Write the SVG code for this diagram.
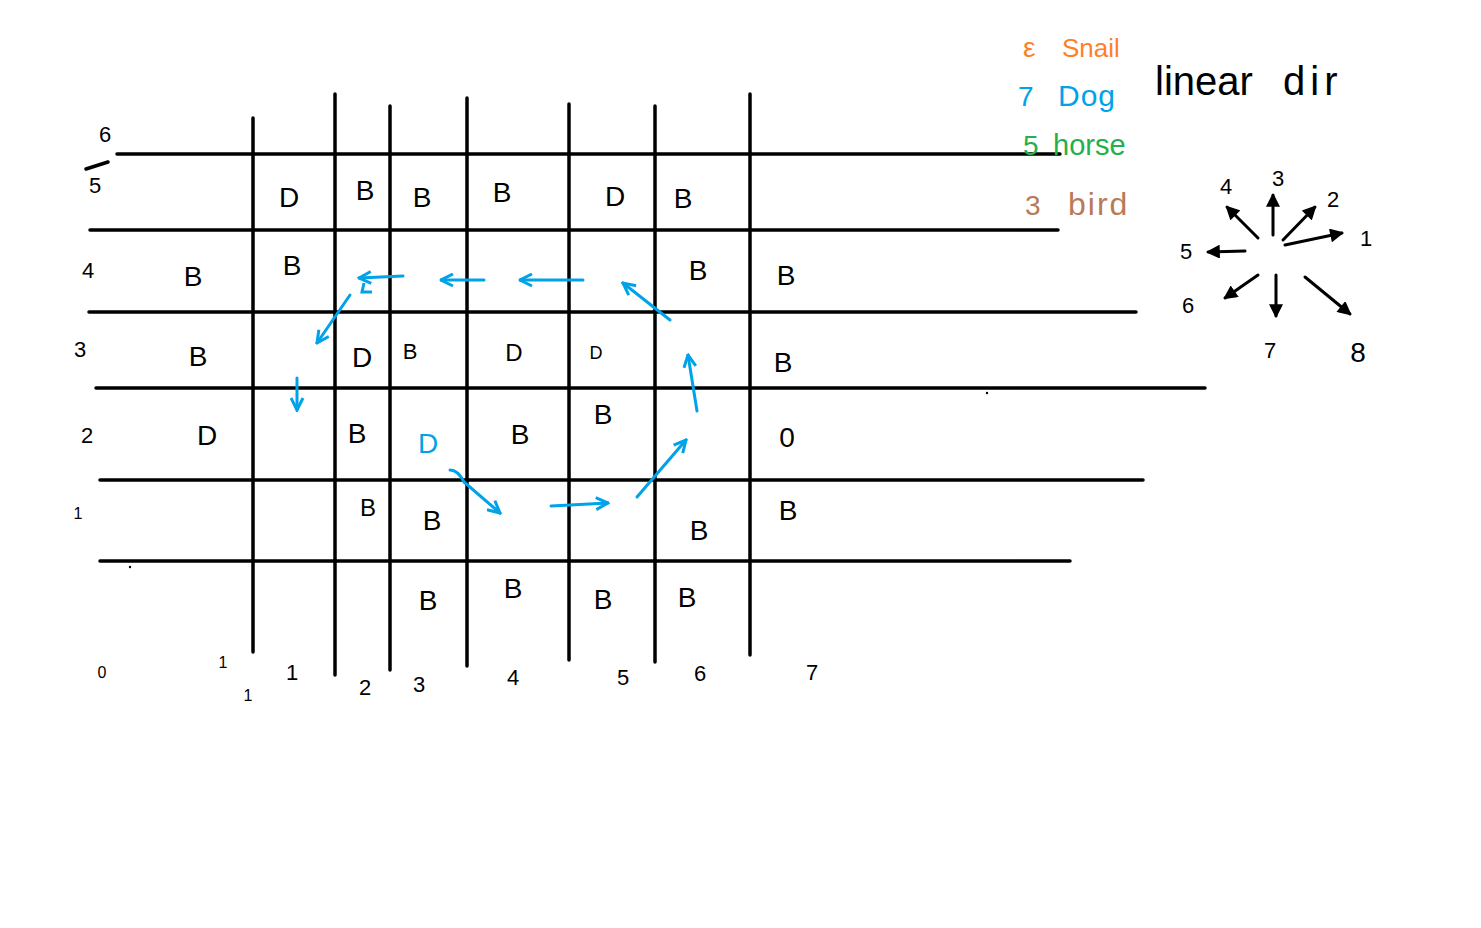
<svg xmlns="http://www.w3.org/2000/svg" width="1481" height="928" viewBox="0 0 1481 928">
<style>
.g{stroke:#000;stroke-width:3.5;stroke-linecap:round}
.t{font-family:"Liberation Sans",Arial,sans-serif;font-size:28px;fill:#000;text-anchor:middle}
.s{font-size:22px}
.ab{stroke:#00a2e8;stroke-width:3;fill:none;stroke-linecap:round;marker-end:url(#mb)}
.ak{stroke:#000;stroke-width:3;fill:none;stroke-linecap:round;marker-end:url(#mk)}
.lg{font-family:"Liberation Sans",Arial,sans-serif;font-size:28px}
</style>
<defs>
<marker id="mb" viewBox="0 0 10 10" refX="9" refY="5" markerWidth="5" markerHeight="5" orient="auto" markerUnits="strokeWidth"><path d="M1,1 L9,5 L1,9" fill="none" stroke="#00a2e8" stroke-width="2"/></marker>
<marker id="mk" viewBox="0 0 10 10" refX="9" refY="5" markerWidth="4.5" markerHeight="4.5" orient="auto" markerUnits="strokeWidth"><path d="M1,1 L9,5 L1,9 Z" fill="#000" stroke="#000" stroke-width="1.5"/></marker>
</defs>
<rect width="1481" height="928" fill="#fff"/>
<g id="grid">
<line class="g" x1="117" y1="154" x2="1060" y2="154"/>
<line class="g" x1="90" y1="230" x2="1058" y2="230"/>
<line class="g" x1="89" y1="312" x2="1136" y2="312"/>
<line class="g" x1="96" y1="388" x2="1205" y2="388"/>
<line class="g" x1="100" y1="480" x2="1143" y2="480"/>
<line class="g" x1="100" y1="561" x2="1070" y2="561"/>
<line class="g" x1="253" y1="118" x2="253" y2="652"/>
<line class="g" x1="335" y1="94" x2="335" y2="675"/>
<line class="g" x1="390" y1="106" x2="390" y2="670"/>
<line class="g" x1="467" y1="98" x2="467" y2="666"/>
<line class="g" x1="569" y1="104" x2="569" y2="660"/>
<line class="g" x1="655" y1="106" x2="655" y2="662"/>
<line class="g" x1="750" y1="94" x2="750" y2="655"/>
</g>
<g id="row-labels">
<text class="t s" x="105" y="142">6</text>
<path class="g" d="M86,169 L108,162" stroke-width="3"/>
<text class="t s" x="95" y="193">5</text>
<text class="t s" x="88" y="278">4</text>
<text class="t s" x="80" y="357">3</text>
<text class="t s" x="87" y="443">2</text>
<text class="t" x="78" y="519" style="font-size:16px">1</text>
</g>
<g id="col-labels">
<text class="t" x="102" y="678" style="font-size:16px">0</text>
<text class="t" x="223" y="668" style="font-size:16px">1</text>
<text class="t" x="248" y="701" style="font-size:16px">1</text>
<text class="t s" x="292" y="680">1</text>
<text class="t s" x="365" y="695">2</text>
<text class="t s" x="419" y="692">3</text>
<text class="t s" x="513" y="685">4</text>
<text class="t s" x="623" y="685">5</text>
<text class="t s" x="700" y="681">6</text>
<text class="t s" x="812" y="680">7</text>
</g>
<g id="cells">
<text class="t" x="289" y="207">D</text>
<text class="t" x="365" y="200">B</text>
<text class="t" x="422" y="207">B</text>
<text class="t" x="502" y="202">B</text>
<text class="t" x="615" y="206">D</text>
<text class="t" x="683" y="208">B</text>
<text class="t" x="193" y="286">B</text>
<text class="t" x="292" y="275">B</text>
<text class="t" x="698" y="280">B</text>
<text class="t" x="786" y="285">B</text>
<text class="t" x="198" y="366">B</text>
<text class="t" x="362" y="367">D</text>
<text class="t" x="410" y="359" style="font-size:22px">B</text>
<text class="t" x="514" y="361" style="font-size:24px">D</text>
<text class="t" x="596" y="359" style="font-size:18px">D</text>
<text class="t" x="783" y="372">B</text>
<text class="t" x="207" y="445">D</text>
<text class="t" x="357" y="443">B</text>
<text class="t" x="428" y="453" style="fill:#00a2e8">D</text>
<text class="t" x="520" y="444">B</text>
<text class="t" x="603" y="424">B</text>
<text class="t" x="787" y="447">0</text>
<text class="t" x="368" y="516" style="font-size:24px">B</text>
<text class="t" x="432" y="530">B</text>
<text class="t" x="699" y="540">B</text>
<text class="t" x="788" y="520">B</text>
<text class="t" x="428" y="610">B</text>
<text class="t" x="513" y="598">B</text>
<text class="t" x="603" y="609">B</text>
<text class="t" x="687" y="607">B</text>
</g>
<g id="dog-path">
<path class="ab" d="M450,470 Q458,470 464,482 L500,513"/>
<path class="ab" d="M551,506 L608,503"/>
<path class="ab" d="M637,497 L686,440"/>
<path class="ab" d="M697,411 L688,355"/>
<path class="ab" d="M670,320 L623,283"/>
<path class="ab" d="M583,280 L520,280"/>
<path class="ab" d="M484,280 L441,280"/>
<path class="ab" d="M403,276 L359,278"/>
<path d="M364,283 L362,292 L372,292" stroke="#00a2e8" stroke-width="3" fill="none"/>
<path class="ab" d="M350,295 L317,343"/>
<path class="ab" d="M297,378 L297,410"/>
</g>
<g id="legend">
<text class="lg" x="1023" y="57" fill="#ff7f27">ε</text>
<text class="lg" x="1062" y="57" fill="#ff7f27" style="font-size:26px">Snail</text>
<text class="lg" x="1018" y="106" fill="#00a2e8">7</text>
<text class="lg" x="1058" y="106" fill="#00a2e8" style="font-size:30px;letter-spacing:1px">Dog</text>
<text class="lg" x="1023" y="155" fill="#22b14c">5</text>
<text class="lg" x="1053" y="155" fill="#22b14c" style="font-size:29px">horse</text>
<text class="lg" x="1025" y="215" fill="#b97a57">3</text>
<text class="lg" x="1068" y="215" fill="#b97a57" style="font-size:32px;letter-spacing:2px">bird</text>
<text class="lg" x="1155" y="95" style="font-size:40px" fill="#000">linear</text>
<text class="lg" x="1283" y="95" style="font-size:40px;letter-spacing:5px" fill="#000">dir</text>
</g>
<g id="compass">
<path class="ak" d="M1285,245 L1342,233"/>
<path class="ak" d="M1283,240 L1315,207"/>
<path class="ak" d="M1273,235 L1273,195"/>
<path class="ak" d="M1258,238 L1227,207"/>
<path class="ak" d="M1245,251 L1208,252"/>
<path class="ak" d="M1258,275 L1225,298"/>
<path class="ak" d="M1276,275 L1276,316"/>
<path class="ak" d="M1305,277 L1350,314"/>
<text class="t s" x="1366" y="246">1</text>
<text class="t s" x="1333" y="207">2</text>
<text class="t s" x="1278" y="186">3</text>
<text class="t s" x="1226" y="194">4</text>
<text class="t s" x="1186" y="259">5</text>
<text class="t s" x="1188" y="313">6</text>
<text class="t s" x="1270" y="358">7</text>
<text class="t" x="1358" y="362">8</text>
</g>
<circle cx="987" cy="393" r="1.2" fill="#000"/>
<circle cx="130" cy="567" r="1.2" fill="#000"/>
</svg>
